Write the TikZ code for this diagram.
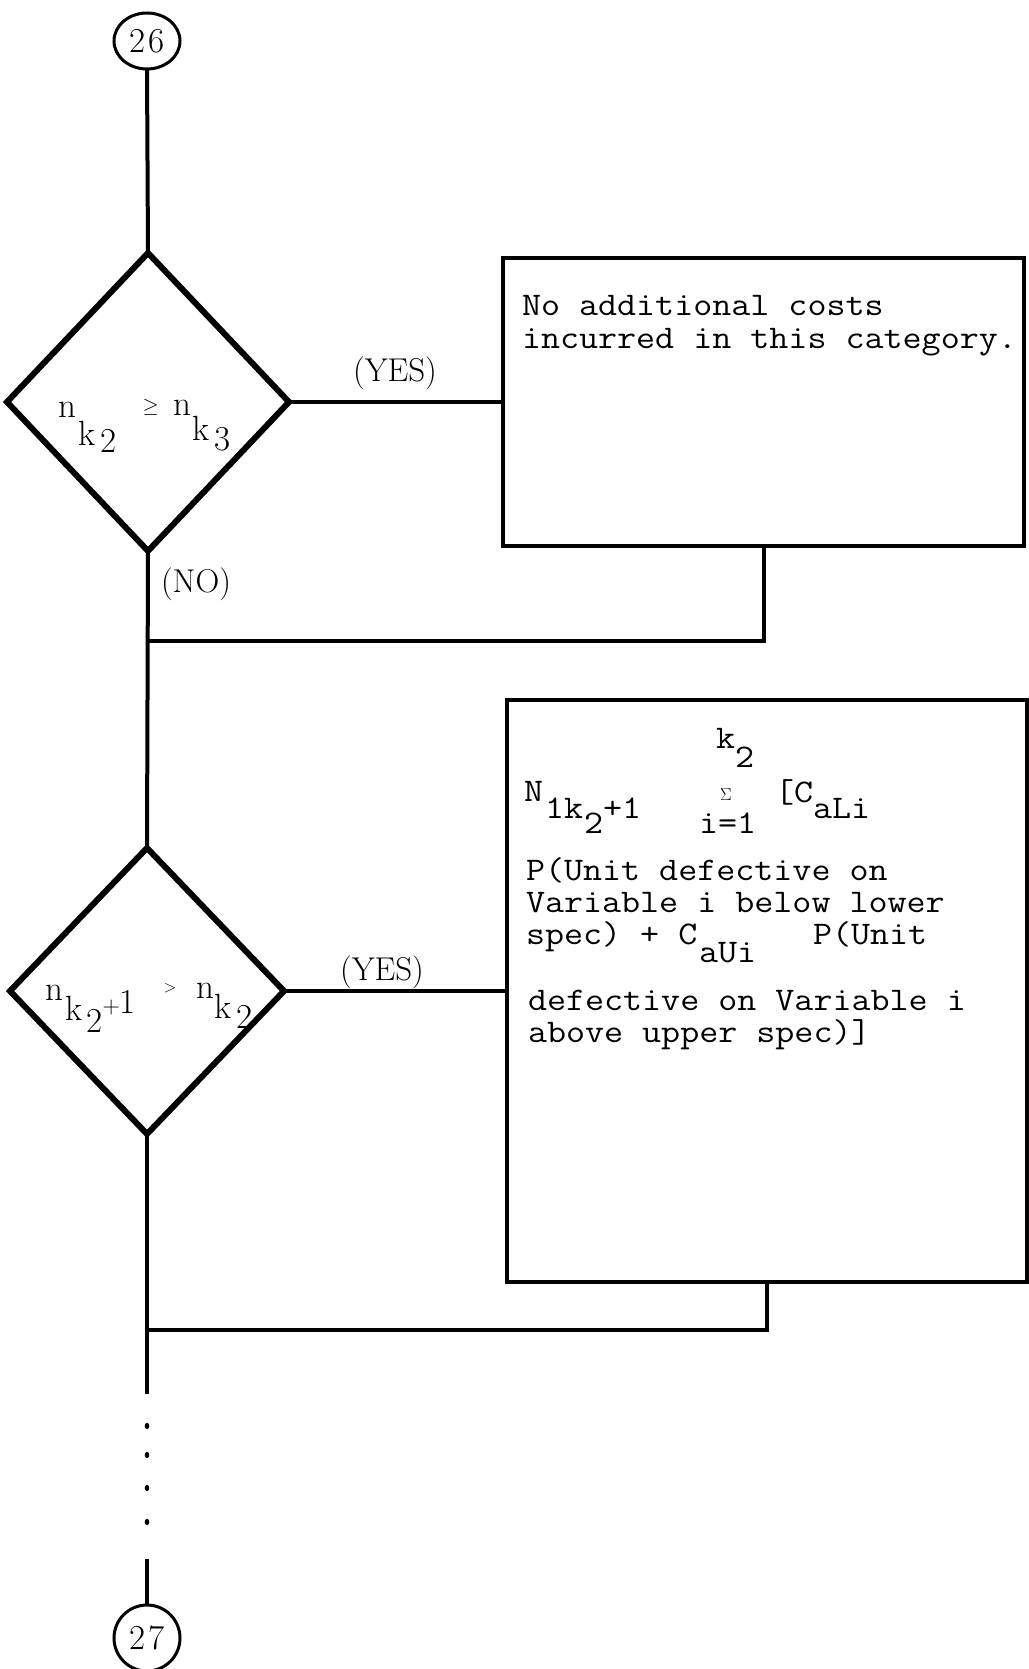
\documentclass[tikz,border=0pt]{standalone}
\usepackage{graphicx}
\usetikzlibrary{shapes.geometric}
\newcommand\twx[1]{\scalebox{1.12}[1]{#1}}
\newcommand\gl[3]{\rlap{\hspace*{#1pt}\raisebox{-#2pt}{#3}}}
\begin{document}
\begin{tikzpicture}[x=1pt,y=1pt,
  conline/.style={line width=4pt},
  dia/.style={draw, shape=diamond, line width=6pt, inner sep=0pt, outer sep=0pt},
  tbox/.style={draw, rectangle, line width=4pt, inner sep=0pt, outer sep=0pt},
  conn/.style={draw, ellipse, line width=3pt, inner sep=0pt, outer sep=0pt, font=\fontsize{35}{35}\selectfont},
  tw/.style={anchor=base west, inner sep=0pt, outer sep=0pt, font=\fontsize{33}{33}\selectfont\ttfamily},
  lbl/.style={inner sep=0pt, font=\fontsize{33}{33}\selectfont},
  dtx/.style={anchor=base west, inner sep=0pt, font=\fontsize{35}{35}\selectfont},
  sig/.style={anchor=base west, inner sep=0pt, font=\fontsize{16}{16}\selectfont},
]
\useasboundingbox[fill=white] (0,0) rectangle (1028,-1669);

% main nodes
\node[conn, minimum width=66pt, minimum height=56pt] (c26) at (147,-41) {2\kern3pt 6};
\node[dia, minimum width=282pt, minimum height=298pt] (d1) at (148,-402) {};
\node[tbox, minimum width=521pt, minimum height=288pt] (b1) at (763.5,-402) {};
\node[dia, minimum width=274pt, minimum height=286pt] (d2) at (147,-991) {};
\node[tbox, minimum width=520pt, minimum height=582pt] (b2) at (767,-991) {};
\node[conn, minimum width=66pt, minimum height=66pt] (c27) at (147,-1638) {2\kern3pt 7};

% connectors
\coordinate (j1) at (147,-641);
\coordinate (j2) at (147,-1330);
\coordinate (e1) at (147,-1394);
\coordinate (e2) at (147,-1559);
\draw[conline] (c26.south) -- (d1.north);
\draw[conline] (d1.east) -- (b1.west);
\draw[conline] (b1.south) |- (j1);
\draw[conline] (d1.south) -- (d2.north);
\draw[conline] (d2.east) -- (d2.east -| b2.west);
\draw[conline] (b2.south) |- (j2);
\draw[conline] (d2.south) -- (e1);
\draw[conline] (e2) -- (c27.north);
\foreach \yy in {1426,1455,1488,1522} \fill (147,-\yy) ellipse (2.3pt and 3.2pt);

% labels
\node[lbl] (yes1) at (395,-373) {(YES)};
\node[lbl] (no1) at (196,-584) {(NO)};
\node[lbl] (yes2) at (382,-972) {(YES)};

% diamond texts
\node[dtx] (t1) at (58,-417) {\gl{0}{0}{n}\gl{20}{28}{k}\gl{42}{35}{2}\gl{84}{-5}{\fontsize{20}{20}\selectfont$\geq$}\gl{115}{-2}{n}\gl{134}{23}{k}\gl{156}{33}{3}};
\node[dtx] (t2) at (45,-1000) {\gl{0}{0}{n}\gl{20}{20}{k}\gl{41}{32}{2}\gl{57}{13}{\fontsize{24}{24}\selectfont +}\gl{74}{13}{1}\gl{118}{-8}{\fontsize{17}{17}\selectfont >}\gl{151}{-2}{n}\gl{169}{18}{k}\gl{191}{28}{2}};

% box 1 text
\node[tw] (a1) at (522,-316) {\twx{No additional costs}};
\node[tw] (a2) at (522,-348) {\twx{incurred in this category.}};

% box 2 text
\node[tw] (f1) at (716,-748) {\twx{k}};
\node[tw] (f2) at (735,-767) {\twx{2}};
\node[tw] (f3) at (524,-801) {\twx{N}};
\node[tw] (f4) at (545,-818) {\twx{1k}};
\node[tw] (f5) at (584,-833) {\twx{2}};
\node[tw] (f6) at (603,-818) {\twx{+1}};
\node[sig] (f7) at (720,-800) {$\Sigma$};
\node[tw] (f8) at (699,-833) {\twx{i=1}};
\node[tw] (f9) at (775,-802) {\twx{[C}};
\node[tw] (f10) at (813,-818) {\twx{aLi}};
\node[tw] (g1) at (526,-880) {\twx{P(Unit defective on}};
\node[tw] (g2) at (526,-912) {\twx{Variable i below lower}};
\node[tw] (g3) at (526,-944) {\twx{spec) + C}};
\node[tw] (g4) at (813,-944) {\twx{P(Unit}};
\node[tw] (g5) at (699,-962) {\twx{aUi}};
\node[tw] (g6) at (528,-1010) {\twx{defective on Variable i}};
\node[tw] (g7) at (528,-1042) {\twx{above upper spec)]}};
\end{tikzpicture}
\end{document}
